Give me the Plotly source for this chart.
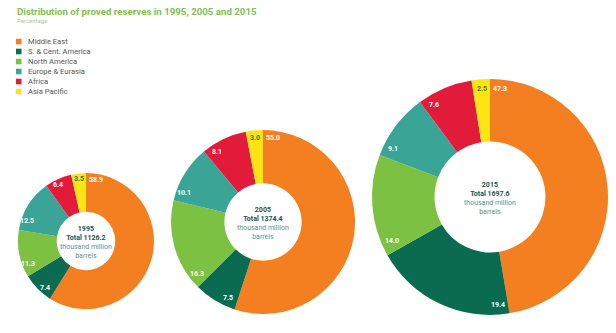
import math
import plotly.graph_objects as go

W, H = 616, 333

regions = ["Middle East", "S. & Cent. America", "North America",
           "Europe & Eurasia", "Africa", "Asia Pacific"]
colors = ["#F47F20", "#0B6B50", "#7CC142", "#3AA597", "#E31B3B", "#FFE415"]
label_colors = ["#FFFFFF", "#FFFFFF", "#FFFFFF", "#FFFFFF", "#FFFFFF", "#2E7D32"]

years = ["1995", "2005", "2015"]
totals = ["1126.2", "1374.4", "1697.6"]
share_1995 = [58.9, 7.4, 11.3, 12.5, 6.4, 3.5]
share_2005 = [55.0, 7.5, 16.3, 10.1, 8.1, 3.0]
share_2015 = [47.3, 19.4, 14.0, 9.1, 7.6, 2.5]
shares = [share_1995, share_2005, share_2015]

# donut placement in pixels: centre x, centre y, outer radius, hole fraction
centres = [(86, 241, 68), (263, 222, 92), (490, 197, 118)]
holes = [0.43, 0.42, 0.47]

fig = go.Figure()
annotations = []

def px(x, y):
    return x / W, 1 - y / H

for vals, (cx, cy, r), hole, yr, tot in zip(shares, centres, holes, years, totals):
    fig.add_trace(go.Pie(
        labels=regions, values=vals, hole=hole, sort=False,
        direction="clockwise", rotation=0,
        marker=dict(colors=colors, line=dict(width=0)),
        textinfo="none", hoverinfo="label+value", showlegend=False,
        domain=dict(x=[(cx - r) / W, (cx + r) / W],
                    y=[1 - (cy + r) / H, 1 - (cy - r) / H]),
    ))
    # value labels just clockwise of each slice's leading edge
    total = sum(vals)
    cum = 0.0
    rl = 0.915 * r
    for v, lc in zip(vals, label_colors):
        start = cum / total * 2 * math.pi
        span = v / total * 2 * math.pi
        off = min(10.0 / rl, span / 2)
        a = start + off
        lx = cx + rl * math.sin(a)
        ly = cy - rl * math.cos(a)
        x, y = px(lx, ly)
        annotations.append(dict(
            x=x, y=y, xref="paper", yref="paper", showarrow=False,
            text=f"<b>{v:.1f}</b>", font=dict(size=7, color=lc,
                                              family="Roboto"),
            xanchor="center", yanchor="middle"))
        cum += v
    # centre caption
    x, y = px(cx, cy + 1)
    annotations.append(dict(
        x=x, y=y, xref="paper", yref="paper", showarrow=False,
        align="center", xanchor="center", yanchor="middle",
        font=dict(size=7, color="#5E918C", family="Roboto"),
        text=(f"<span style='color:#24524C'><b>{yr}</b></span><br>"
              f"<span style='color:#24524C'><b>Total {tot}</b></span><br>"
              "thousand million<br>barrels")))

# legend drawn as small swatches with labels
shapes = []
for i, (name, c) in enumerate(zip(regions, colors)):
    yc = 41.5 + i * 10
    shapes.append(dict(type="rect", xref="paper", yref="paper",
                       x0=16 / W, x1=21.5 / W,
                       y0=1 - (yc + 2.8) / H, y1=1 - (yc - 2.8) / H,
                       fillcolor=c, line=dict(width=0)))
    x, y = px(26, yc)
    annotations.append(dict(
        x=x, y=y, xref="paper", yref="paper", showarrow=False,
        xanchor="left", yanchor="middle", text=name,
        font=dict(size=7.6, color="#555555", family="Roboto")))

# title and subtitle
x, y = px(15, 11)
annotations.append(dict(
    x=x, y=y, xref="paper", yref="paper", showarrow=False,
    xanchor="left", yanchor="middle",
    text="<b>Distribution of proved reserves in 1995, 2005 and 2015</b>",
    font=dict(size=9.7, color="#80C050", family="Roboto")))
x, y = px(15, 20.5)
annotations.append(dict(
    x=x, y=y, xref="paper", yref="paper", showarrow=False,
    xanchor="left", yanchor="middle", text="Percentage",
    font=dict(size=6, color="#A9C9A0", family="Roboto")))

fig.update_layout(
    width=W, height=H, margin=dict(l=0, r=0, t=0, b=0),
    paper_bgcolor="white", plot_bgcolor="white",
    annotations=annotations, shapes=shapes, showlegend=False,
)

fig.write_html("out.html")
